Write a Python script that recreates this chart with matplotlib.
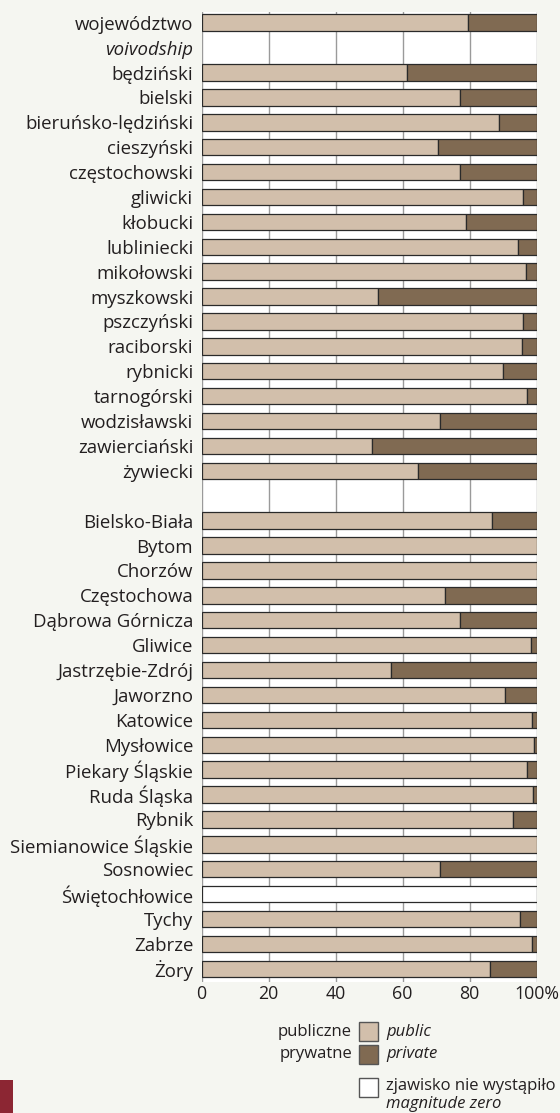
import matplotlib
matplotlib.use("Agg")
import matplotlib.pyplot as plt
from matplotlib.patches import Rectangle
import numpy as np

plt.rcParams['font.family'] = ['Open Sans', 'DejaVu Sans']

# ---- data (percent) ----
voiv_label = "województwo"
voiv_label_en = "voivodship"
voiv_public = [79.6]
voiv_private = [20.4]

powiaty = ["będziński", "bielski", "bieruńsko-lędziński", "cieszyński", "częstochowski",
           "gliwicki", "kłobucki", "lubliniecki", "mikołowski", "myszkowski", "pszczyński",
           "raciborski", "rybnicki", "tarnogórski", "wodzisławski", "zawierciański", "żywiecki"]
powiaty_public = [61.4, 77.3, 88.7, 70.6, 77.3, 96.0, 79.1, 94.4, 96.9, 52.8, 95.9,
                  95.7, 90.1, 97.1, 71.3, 51.0, 64.6]
powiaty_private = [38.6, 22.7, 11.3, 29.4, 22.7, 4.0, 20.9, 5.6, 3.1, 47.2, 4.1,
                   4.3, 9.9, 2.9, 28.7, 49.0, 35.4]

miasta = ["Bielsko-Biała", "Bytom", "Chorzów", "Częstochowa", "Dąbrowa Górnicza", "Gliwice",
          "Jastrzębie-Zdrój", "Jaworzno", "Katowice", "Mysłowice", "Piekary Śląskie",
          "Ruda Śląska", "Rybnik", "Siemianowice Śląskie", "Sosnowiec", "Świętochłowice",
          "Tychy", "Zabrze", "Żory"]
miasta_public = [86.6, 100.0, 100.0, 72.8, 77.1, 98.4, 56.6, 90.5, 98.7, 99.4, 97.2,
                 99.0, 93.1, 100.0, 71.2, np.nan, 95.0, 98.7, 86.2]
miasta_private = [13.4, 0.0, 0.0, 27.2, 22.9, 1.6, 43.4, 9.5, 1.3, 0.6, 2.8,
                  1.0, 6.9, 0.0, 28.8, np.nan, 5.0, 1.3, 13.8]

xticks = [0, 20, 40, 60, 80, 100]
xticklabels = ["0", "20", "40", "60", "80", "100%"]

leg_pl = ["publiczne", "prywatne"]
leg_en = ["public", "private"]
zero_pl = "zjawisko nie wystąpiło"
zero_en = "magnitude zero"

# ---- style ----
BG = "#f5f6f1"
C_PUB = "#d2bfab"
C_PRIV = "#806a52"
EDGE = "#2a2a2a"
GRID = "#9a9a9a"
TXT = "#231f20"
FS_Y = 13.4
FS_X = 12.8
FS_L = 12

W, H = 560, 1113
fig = plt.figure(figsize=(W / 100, H / 100), dpi=100, facecolor=BG)
ax = fig.add_axes([201.5 / W, 1 - 982 / H, 335 / W, (982 - 12) / H])
ax.set_facecolor("white")

# y positions
y_voiv = [0]
y_pow = list(range(2, 2 + len(powiaty)))
y_mia = list(range(3 + len(powiaty), 3 + len(powiaty) + len(miasta)))

ys = y_voiv + y_pow + y_mia
pub = voiv_public + powiaty_public + miasta_public
priv = voiv_private + powiaty_private + miasta_private

bh = 0.66
for y, p, q in zip(ys, pub, priv):
    if np.isnan(p):
        ax.barh(y, 100, height=bh, color="white", edgecolor=EDGE, linewidth=0.9, zorder=3)
        continue
    ax.barh(y, p, height=bh, color=C_PUB, edgecolor=EDGE, linewidth=0.9, zorder=3)
    if q > 0:
        ax.barh(y, q, left=p, height=bh, color=C_PRIV, edgecolor=EDGE, linewidth=0.9, zorder=3)

ax.set_xlim(0, 100)
ax.set_ylim(38.53, -0.43)
for xv in xticks:
    ax.axvline(xv, color=GRID, lw=1.0, zorder=1)
for s in ax.spines.values():
    s.set_visible(False)

ax.set_xticks(xticks)
ax.set_xticklabels(xticklabels, fontsize=FS_X, color=TXT)
ax.tick_params(axis="x", length=0, pad=2)

ytick_pos = [0, 1] + y_pow + y_mia
ytick_lab = [voiv_label, voiv_label_en] + powiaty + miasta
ax.set_yticks(ytick_pos)
ax.set_yticklabels(ytick_lab, fontsize=FS_Y, color=TXT)
ax.tick_params(axis="y", length=0, pad=6)
ax.get_yticklabels()[1].set_style("italic")

# ---- legend ----
def box(x0, y0, x1, y1, fc):
    fig.patches.append(Rectangle((x0 / W, 1 - y1 / H), (x1 - x0) / W, (y1 - y0) / H,
                                 transform=fig.transFigure, facecolor=fc,
                                 edgecolor="#555555", linewidth=1.0))

box(359, 1022, 378, 1041, C_PUB)
box(359, 1045, 378, 1064, C_PRIV)
box(359, 1078, 378, 1097, "white")

fig.text(352 / W, 1 - 1032 / H, leg_pl[0], ha="right", va="center", fontsize=FS_L, color=TXT)
fig.text(352 / W, 1 - 1054 / H, leg_pl[1], ha="right", va="center", fontsize=FS_L, color=TXT)
fig.text(386 / W, 1 - 1032 / H, leg_en[0], ha="left", va="center", fontsize=FS_L, color=TXT, style="italic")
fig.text(386 / W, 1 - 1054 / H, leg_en[1], ha="left", va="center", fontsize=FS_L, color=TXT, style="italic")
fig.text(386 / W, 1 - 1086 / H, zero_pl, ha="left", va="center", fontsize=FS_L, color=TXT)
fig.text(386 / W, 1 - 1104 / H, zero_en, ha="left", va="center", fontsize=FS_L, color=TXT, style="italic")

# red corner block
fig.patches.append(Rectangle((0, 0), 13 / W, 33 / H, transform=fig.transFigure,
                             facecolor="#8c2633", edgecolor="none"))

fig.savefig("out.png", dpi=100, facecolor=BG)
